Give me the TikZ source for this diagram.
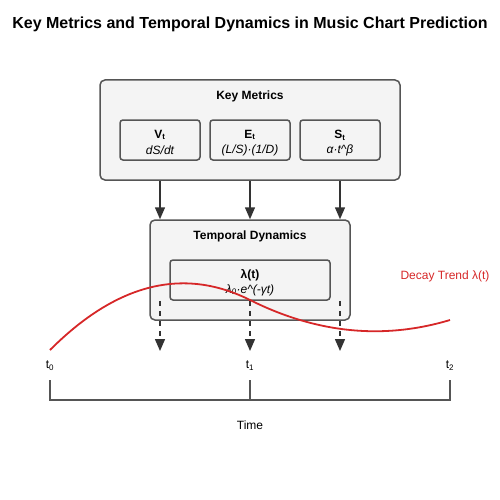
\documentclass[tikz,border=0pt]{standalone}
\usepackage{fontspec}
\setmainfont{Liberation Sans}
\usetikzlibrary{arrows.meta}
\definecolor{boxfill}{RGB}{244,244,244}
\definecolor{boxline}{RGB}{85,85,85}
\definecolor{arrcol}{RGB}{51,51,51}
\definecolor{trend}{RGB}{214,39,40}
\tikzset{
  outerbox/.style={draw=boxline, fill=boxfill, line width=1.5pt, rounded corners=5pt, inner sep=0pt},
  innerbox/.style={draw=boxline, fill=boxfill, line width=1.5pt, rounded corners=3pt, inner sep=0pt},
  boxtitle/.style={font=\fontsize{12}{14}\selectfont\bfseries, inner sep=0pt},
  varname/.style={font=\fontsize{12}{14}\selectfont\bfseries, inner sep=0pt},
  formula/.style={font=\fontsize{12}{14}\selectfont\itshape, inner sep=0pt},
  plain/.style={font=\fontsize{12}{14}\selectfont, inner sep=0pt},
  arr/.style={draw=arrcol, line width=1.5pt, -{Triangle[length=12pt,width=10pt]}},
  darr/.style={arr, dash pattern=on 5pt off 5pt},
  axis/.style={draw=boxline, line width=2pt},
  trendline/.style={draw=trend, line width=1.8pt},
}
\begin{document}
\begin{tikzpicture}[x=1pt,y=-1pt]
\useasboundingbox (0,0) rectangle (500,500);
\node[font=\fontsize{16}{19}\selectfont\bfseries, inner sep=0pt] (title) at (250,24) {Key Metrics and Temporal Dynamics in Music Chart Prediction};

% Key metrics
\node[outerbox, minimum width=300pt, minimum height=100pt] (km) at (250,130) {};
\node[boxtitle] (kmt) at (250,96) {Key Metrics};
\node[innerbox, minimum width=80pt, minimum height=40pt] (v) at (160,140) {};
\node[innerbox, minimum width=80pt, minimum height=40pt] (e) at (250,140) {};
\node[innerbox, minimum width=80pt, minimum height=40pt] (s) at (340,140) {};
\node[varname] (vn) at (160,135) {V\textsubscript{t}};
\node[formula] (vf) at (160,150) {dS/dt};
\node[varname] (en) at (250,135) {E\textsubscript{t}};
\node[formula] (ef) at (250,150) {(L/S)·(1/D)};
\node[varname] (sn) at (340,135) {S\textsubscript{t}};
\node[formula] (sf) at (340,150) {α·t\^{}β};

% Temporal dynamics
\node[outerbox, minimum width=200pt, minimum height=100pt] (td) at (250,270) {};
\node[boxtitle] (tdt) at (250,236) {Temporal Dynamics};
\node[innerbox, minimum width=160pt, minimum height=40pt] (lam) at (250,280) {};
\node[varname] (ln) at (250,275) {λ(t)};
\node[formula] (lf) at (250,290) {λ\textsubscript{0}·e\^{}(-γt)};

\draw[arr] (km.south -| v) -- (td.north -| v);
\draw[arr] (km.south -| e) -- (td.north -| e);
\draw[arr] (km.south -| s) -- (td.north -| s);

\coordinate (d1) at (160,351);
\coordinate (d2) at (250,351);
\coordinate (d3) at (340,351);
\draw[darr] (lam.south -| d1) -- (d1);
\draw[darr] (lam.south -| d2) -- (d2);
\draw[darr] (lam.south -| d3) -- (d3);

% time axis
\node[plain] (t0) at (50,366) {t\textsubscript{0}};
\node[plain] (t1) at (250,366) {t\textsubscript{1}};
\node[plain] (t2) at (450,366) {t\textsubscript{2}};
\coordinate (a0) at (50,400);
\coordinate (a1) at (250,400);
\coordinate (a2) at (450,400);
\coordinate (k0) at (50,380);
\coordinate (k1) at (250,380);
\coordinate (k2) at (450,380);
\draw[axis] (k0) -- (a0) -- (a2) -- (k2);
\draw[axis] (k1) -- (a1);
\node[plain] (time) at (250,425) {Time};

% decay trend
\coordinate (c0) at (50,350);
\coordinate (c1) at (250,300);
\coordinate (c2) at (450,320);
\draw[trendline] (c0) .. controls (116.67,283.33) and (183.33,266.67) .. (c1)
  .. controls (316.67,333.33) and (383.33,340) .. (c2);
\node[plain, text=trend] (dt) at (445,276) {Decay Trend λ(t)};
\end{tikzpicture}
\end{document}
